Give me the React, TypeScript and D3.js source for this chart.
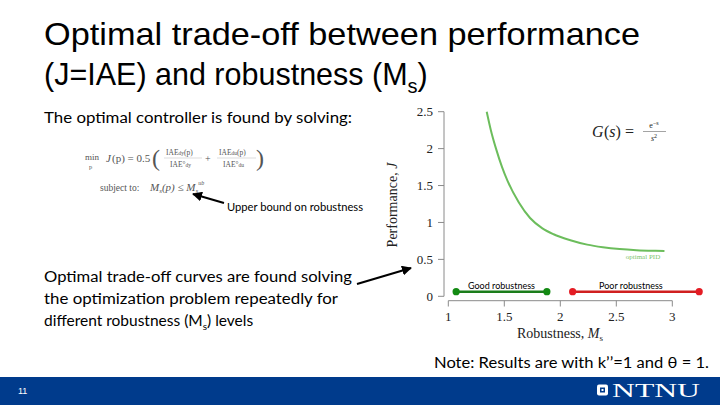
import React from "react";
import * as d3 from "d3";

const msValues = [1.343, 1.38, 1.426, 1.48, 1.53, 1.63, 1.73, 1.84, 1.94, 2.09, 2.24, 2.38, 2.53, 2.68, 2.83, 2.93];
const jValues = [2.5, 2.25, 2.0, 1.75, 1.56, 1.27, 1.06, 0.92, 0.84, 0.76, 0.7, 0.665, 0.64, 0.625, 0.617, 0.614];
const xTicks = [1, 1.5, 2, 2.5, 3];
const yTicks = [0, 0.5, 1, 1.5, 2, 2.5];
const xTickLabels = ["1", "1.5", "2", "2.5", "3"];
const yTickLabels = ["0", "0.5", "1", "1.5", "2", "2.5"];
const rangeLabels = ["Good robustness", "Poor robustness"];
const rangeStart = [1.07, 2.11];
const rangeEnd = [1.88, 3.24];
const rangeJ = [0.062, 0.062];
const bodyLines = [
  "Optimal trade-off curves are found solving",
  "the optimization problem repeatedly for",
];

const calibri = "Lato, 'Open Sans', sans-serif";
const serif = "'Liberation Serif', 'DejaVu Serif', serif";

export default function App() {
  const x = d3.scaleLinear().domain([1, 3]).range([448.3, 672.3]);
  const y = d3.scaleLinear().domain([0, 2.5]).range([296.3, 111.7]);
  const pts = msValues.map((m, i) => [m, jValues[i]] as [number, number]);
  const line = d3
    .line<[number, number]>()
    .x((d) => x(d[0]))
    .y((d) => y(d[1]))
    .curve(d3.curveMonotoneX);
  const rangeColors = ["#1b7d1b", "#d01f1f"];
  const dotColors = ["#138a13", "#e41c24"];
  const axisColor = "#8a8a8a";

  return (
    <svg
      width={720}
      height={405}
      viewBox="0 0 720 405"
      style={{ position: "absolute", left: 0, top: 0, background: "#fff" }}
    >
      <defs>
        <marker id="ah" viewBox="0 0 10 10" refX="9" refY="5" markerWidth="5" markerHeight="5" orient="auto-start-reverse">
          <path d="M0,0 L10,5 L0,10 z" fill="#000" />
        </marker>
      </defs>
      <rect x={0} y={0} width={720} height={405} fill="#fff" />
      {/* Title */}
      <text x={44} y={45} fontFamily="'Liberation Sans', Arial, sans-serif" fontSize={30.5} fill="#000" textLength={596} lengthAdjust="spacingAndGlyphs">
        Optimal trade-off between performance
      </text>
      <text x={44} y={85} fontFamily="'Liberation Sans', Arial, sans-serif" fontSize={30.5} fill="#000">
        (J=IAE) and robustness (M<tspan fontSize={20} dy={8}>s</tspan><tspan dy={-8}>)</tspan>
      </text>

      {/* Left text */}
      <text x={44} y={123} fontFamily={calibri} fontSize={15.5} fill="#000" textLength={308} lengthAdjust="spacingAndGlyphs">
        The optimal controller is found by solving:
      </text>

      {/* Equations (approximate) */}
      <g fontFamily={serif} fill="#555">
        <text x={85} y={160} fontSize={9}>min</text>
        <text x={89} y={169} fontSize={6.5}>p</text>
        <text x={106} y={162} fontStyle="italic" fontSize={11}>J</text>
        <text x={112} y={162} fontSize={11}>(p) = 0.5</text>
        <text x={152} y={166} fontSize={24} fontWeight={100}>(</text>
        <text x={166} y={155} fontSize={7.5}>IAE<tspan fontSize={5.5}>dy</tspan>(p)</text>
        <line x1={164} x2={202} y1={158} y2={158} stroke="#bbb" strokeWidth={0.5} />
        <text x={170} y={167} fontSize={7.5}>IAE°<tspan fontSize={5.5}>dy</tspan></text>
        <text x={205} y={162} fontSize={10}>+</text>
        <text x={219} y={155} fontSize={7.5}>IAE<tspan fontSize={5.5}>du</tspan>(p)</text>
        <line x1={217} x2={256} y1={158} y2={158} stroke="#bbb" strokeWidth={0.5} />
        <text x={223} y={167} fontSize={7.5}>IAE°<tspan fontSize={5.5}>du</tspan></text>
        <text x={256} y={166} fontSize={24} fontWeight={100}>)</text>
        <text x={100} y={191} fontSize={9.5}>subject to:</text>
        <text x={150} y={191} fontStyle="italic" fontSize={11}>M<tspan fontSize={7} dy={2}>s</tspan><tspan dy={-2}>(p) ≤ M</tspan><tspan fontSize={7} dy={2}>s</tspan><tspan fontSize={6} dy={-8}>ub</tspan></text>
      </g>

      {/* Upper bound arrow */}
      <line x1={224} y1={203} x2={193} y2={194} stroke="#000" strokeWidth={2} markerEnd="url(#ah)" />
      <text x={227} y={211} fontFamily={calibri} fontSize={10.5} fill="#000" textLength={136} lengthAdjust="spacingAndGlyphs">
        Upper bound on robustness
      </text>

      {/* Body text */}
      <text x={44} y={282} fontFamily={calibri} fontSize={15.5} fill="#000" textLength={308} lengthAdjust="spacingAndGlyphs">
        {bodyLines[0]}
      </text>
      <text x={44} y={304} fontFamily={calibri} fontSize={15.5} fill="#000" textLength={294} lengthAdjust="spacingAndGlyphs">
        {bodyLines[1]}
      </text>
      <text x={44} y={326} fontFamily={calibri} fontSize={15.5} fill="#000">
        different robustness (M<tspan fontSize={10} dy={4}>s</tspan><tspan dy={-4}>) levels</tspan>
      </text>
      <line x1={357} y1={284} x2={411} y2={268} stroke="#000" strokeWidth={2} markerEnd="url(#ah)" />

      {/* Plot axes */}
      <line x1={444} x2={444} y1={y(2.5)} y2={y(0)} stroke={axisColor} strokeWidth={1} />
      {yTicks.map((t, i) => (
        <g key={"y" + i}>
          <line x1={438} x2={444} y1={y(t)} y2={y(t)} stroke={axisColor} strokeWidth={1} />
          <text x={433} y={y(t) + 4.5} textAnchor="end" fontFamily={serif} fontSize={13} fill="#222">
            {yTickLabels[i]}
          </text>
        </g>
      ))}
      <line x1={x(1)} x2={x(3)} y1={300.7} y2={300.7} stroke={axisColor} strokeWidth={1} />
      {xTicks.map((t, i) => (
        <g key={"x" + i}>
          <line x1={x(t)} x2={x(t)} y1={300.7} y2={306.5} stroke={axisColor} strokeWidth={1} />
          <text x={x(t)} y={321} textAnchor="middle" fontFamily={serif} fontSize={13} fill="#222">
            {xTickLabels[i]}
          </text>
        </g>
      ))}
      <text x={560} y={338} textAnchor="middle" fontFamily={serif} fontSize={14} fill="#222">
        Robustness, <tspan fontStyle="italic">M</tspan><tspan fontSize={9} dy={3}>s</tspan>
      </text>
      <text transform="translate(397,205) rotate(-90)" textAnchor="middle" fontFamily={serif} fontSize={14} fill="#222">
        Performance, <tspan fontStyle="italic">J</tspan>
      </text>

      {/* Curve */}
      <path d={line(pts) || ""} fill="none" stroke="#6cbd5c" strokeWidth={2} />
      <text x={643} y={259} textAnchor="middle" fontFamily={serif} fontSize={7} fill="#7cc46c">
        optimal PID
      </text>

      {/* G(s) */}
      <g fontFamily={serif} fill="#222">
        <text x={592} y={137} fontSize={16} fontStyle="italic">G</text>
        <text x={604} y={137} fontSize={16}>(<tspan fontStyle="italic">s</tspan>) =</text>
        <text x={654} y={128} fontSize={8} textAnchor="middle">e<tspan fontSize={6} dy={-3}>−s</tspan></text>
        <line x1={643} x2={666} y1={131.5} y2={131.5} stroke="#666" strokeWidth={0.6} />
        <text x={654} y={141} fontSize={8} textAnchor="middle" fontStyle="italic">s<tspan fontSize={6} dy={-3} fontStyle="normal">2</tspan></text>
      </g>

      {/* Robustness ranges */}
      {rangeLabels.map((lab, i) => (
        <g key={"r" + i}>
          <line x1={x(rangeStart[i])} x2={x(rangeEnd[i])} y1={y(rangeJ[i])} y2={y(rangeJ[i])} stroke={rangeColors[i]} strokeWidth={2.5} />
          <circle cx={x(rangeStart[i])} cy={y(rangeJ[i])} r={3.6} fill={dotColors[i]} />
          <circle cx={x(rangeEnd[i])} cy={y(rangeJ[i])} r={3.6} fill={dotColors[i]} />
          <text x={(x(rangeStart[i]) + x(rangeEnd[i])) / 2 + (i === 0 ? 0 : -5)} y={289} textAnchor="middle" fontFamily={calibri} fontSize={9} fill="#000">
            {lab}
          </text>
        </g>
      ))}

      {/* Note */}
      <text x={709} y={368} textAnchor="end" fontFamily={calibri} fontSize={15.5} fill="#000" textLength={275} lengthAdjust="spacingAndGlyphs">
        Note: Results are with k’’=1 and θ = 1.
      </text>

      {/* Footer */}
      <rect x={0} y={377} width={720} height={28} fill="#003b8c" />
      <text x={18} y={394} fontFamily="'Liberation Sans', Arial, sans-serif" fontSize={9} fill="#fff">11</text>
      <rect x={597} y={384.5} width={11} height={11} rx={2} fill="#fff" />
      <rect x={600} y={387.5} width={5} height={5} fill="#003b8c" />
      <rect x={601.5} y={389} width={2} height={2} fill="#fff" />
      <text x={612} y={396.5} fontFamily={serif} fontSize={19} fill="#fff" textLength={88} lengthAdjust="spacingAndGlyphs">
        NTNU
      </text>
    </svg>
  );
}
